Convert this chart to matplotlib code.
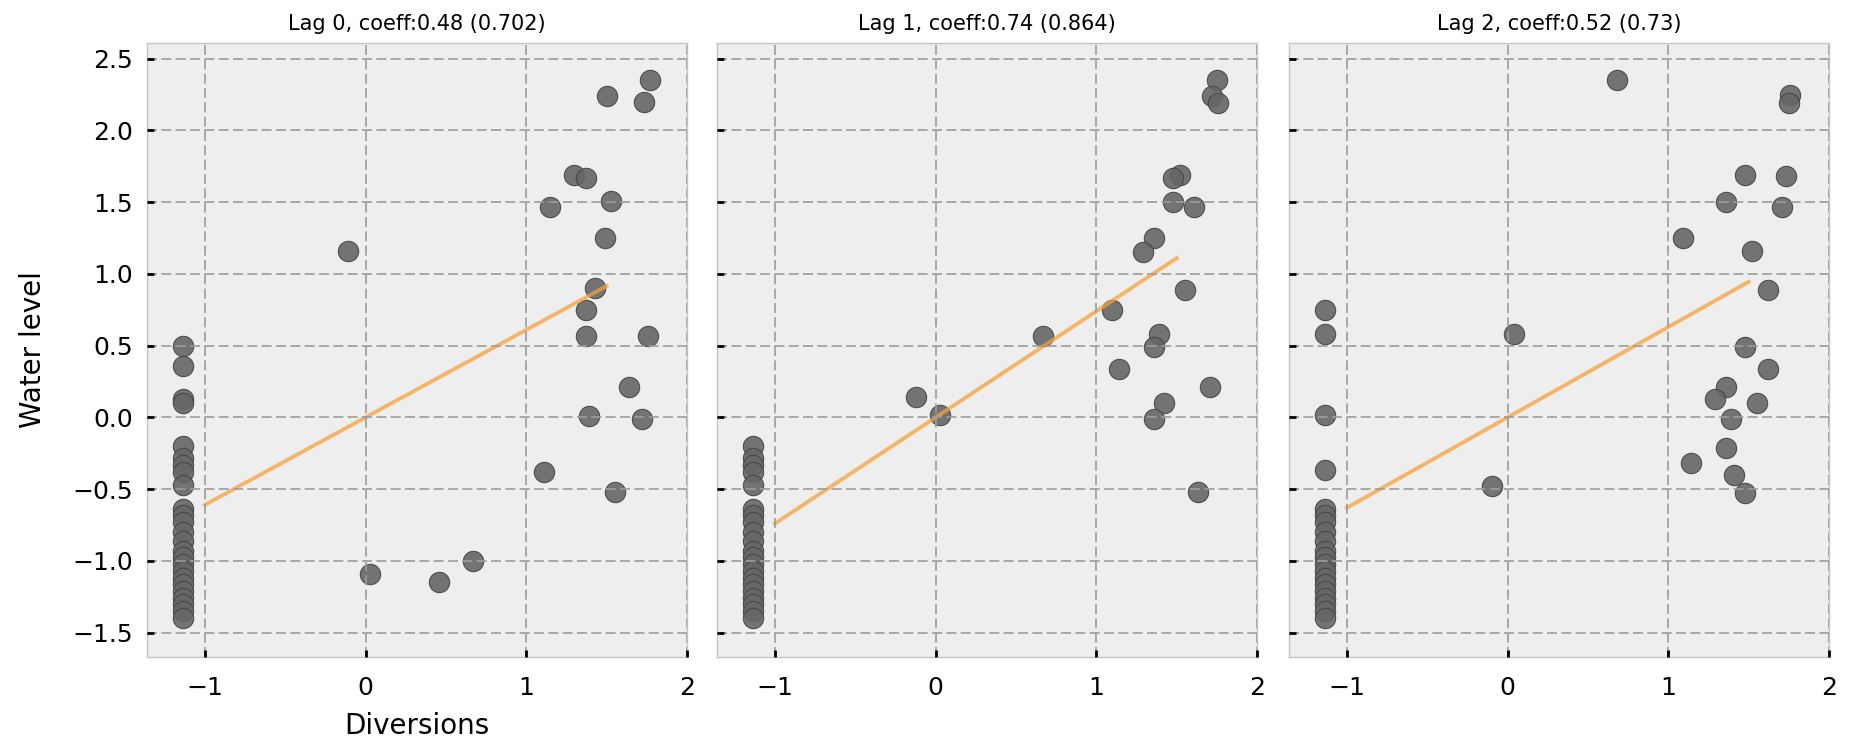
import matplotlib
matplotlib.use("Agg")
import matplotlib.pyplot as plt
import numpy as np

# data (standardised diversions vs water level)
col_x = -1.135  # x of the stacked column of low-diversion points

lag0_col_y = [0.50, 0.36, 0.13, 0.10, -0.20, -0.28, -0.33, -0.38, -0.47, -0.64, -0.68, -0.73, -0.80,
              -0.86, -0.93, -0.97, -1.02, -1.07, -1.12, -1.16, -1.21, -1.26, -1.30, -1.35, -1.40]
lag0_x = [-0.11, 0.03, 0.46, 0.67, 1.77, 1.50, 1.73, 1.30, 1.37, 1.15, 1.53, 1.49, 1.43, 1.37,
          1.37, 1.76, 1.64, 1.39, 1.72, 1.11, 1.55]
lag0_y = [1.16, -1.09, -1.15, -1.00, 2.35, 2.24, 2.20, 1.69, 1.67, 1.47, 1.51, 1.25, 0.90, 0.75,
          0.57, 0.57, 0.21, 0.01, -0.01, -0.38, -0.52]

lag1_col_y = [-0.20, -0.28, -0.33, -0.38, -0.47, -0.64, -0.68, -0.73, -0.80, -0.86, -0.93, -0.97,
              -1.02, -1.07, -1.12, -1.16, -1.21, -1.26, -1.30, -1.35, -1.40]
lag1_x = [-0.12, 0.03, 0.67, 1.75, 1.72, 1.76, 1.52, 1.48, 1.48, 1.61, 1.36, 1.29, 1.55, 1.10,
          1.39, 1.36, 1.14, 1.71, 1.42, 1.36, 1.63]
lag1_y = [0.14, 0.02, 0.57, 2.35, 2.24, 2.19, 1.69, 1.67, 1.50, 1.47, 1.25, 1.15, 0.89, 0.75,
          0.58, 0.49, 0.34, 0.21, 0.10, -0.01, -0.52]

lag2_col_y = [0.75, 0.58, 0.02, -0.37, -0.64, -0.68, -0.73, -0.80, -0.86, -0.93, -0.97, -1.02,
              -1.07, -1.12, -1.16, -1.21, -1.26, -1.30, -1.35, -1.40]
lag2_x = [-0.10, 0.04, 0.68, 1.76, 1.75, 1.48, 1.73, 1.36, 1.71, 1.09, 1.52, 1.62, 1.48, 1.62,
          1.36, 1.29, 1.55, 1.39, 1.36, 1.14, 1.41, 1.48]
lag2_y = [-0.48, 0.58, 2.35, 2.25, 2.19, 1.69, 1.68, 1.50, 1.47, 1.25, 1.16, 0.89, 0.49, 0.34,
          0.21, 0.13, 0.10, -0.01, -0.21, -0.32, -0.40, -0.53]

titles = ["Lag 0, coeff:0.48 (0.702)", "Lag 1, coeff:0.74 (0.864)", "Lag 2, coeff:0.52 (0.73)"]
fit_x = np.array([-1.0, 1.5])
fit_slopes = [0.61, 0.74, 0.63]

panels = [(lag0_col_y, lag0_x, lag0_y), (lag1_col_y, lag1_x, lag1_y), (lag2_col_y, lag2_x, lag2_y)]

plt.rcParams['font.family'] = ['DejaVu Sans']

fig = plt.figure(figsize=(18.51, 7.42), dpi=100)
ax_w = 0.2917
ax_h = 0.8275
lefts = [0.0794, 0.3874, 0.6964]

axes = []
for i, (col_y, px, py) in enumerate(panels):
    if i == 0:
        ax = fig.add_axes([lefts[i], 0.1146, ax_w, ax_h])
    else:
        ax = fig.add_axes([lefts[i], 0.1146, ax_w, ax_h], sharey=axes[0])
    axes.append(ax)

    ax.set_facecolor('#eeeeee')
    for sp in ax.spines.values():
        sp.set_color('#c4c4c4')
        sp.set_linewidth(1.0)

    xs = [col_x] * len(col_y) + list(px)
    ys = list(col_y) + list(py)
    ax.scatter(xs, ys, s=215, facecolor='#666666', edgecolor='#454545', linewidth=0.8,
               alpha=0.9, zorder=1)
    ax.plot(fit_x, fit_slopes[i] * fit_x, color='#f5a23c', alpha=0.75, lw=2.8, zorder=2)

    ax.set_xlim(-1.36, 2.0)
    ax.set_ylim(-1.67, 2.61)
    ax.set_xticks([-1, 0, 1, 2])
    ax.set_yticks([-1.5, -1.0, -0.5, 0.0, 0.5, 1.0, 1.5, 2.0, 2.5])
    ax.set_axisbelow(False)
    ax.grid(True, color='#9c9c9c', linestyle=(0, (6, 2.6)), linewidth=1.2)
    ax.tick_params(direction='in', length=5, width=2, colors='black', labelsize=18,
                   top=False, right=False, pad=10)
    ax.tick_params(axis='x', pad=14)
    ax.set_title(titles[i], fontsize=15, pad=9)
    if i > 0:
        ax.tick_params(labelleft=False)

axes[0].set_ylabel("Water level", fontsize=20, labelpad=18)
axes[0].set_xlabel("Diversions", fontsize=20, labelpad=8)

fig.savefig("out.png", dpi=100)
